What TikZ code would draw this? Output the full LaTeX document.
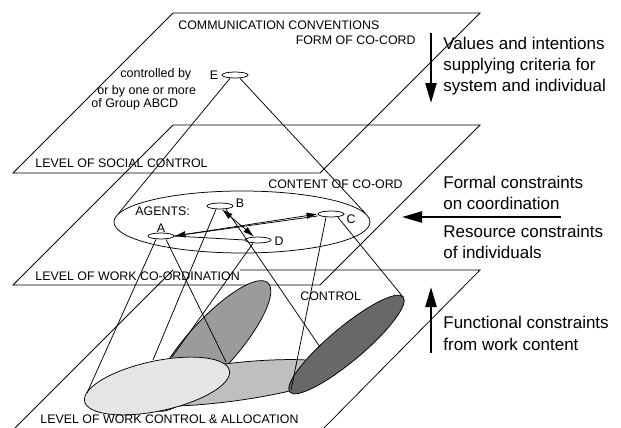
\documentclass[tikz,border=0pt]{standalone}
\usepackage{fontspec}
\setmainfont{Liberation Sans}
\usetikzlibrary{arrows.meta,shapes.geometric}
\definecolor{lightg}{HTML}{E5E5E7}
\definecolor{midg}{HTML}{BFBFBF}
\definecolor{mdarkg}{HTML}{9B9B9B}
\definecolor{darkg}{HTML}{686868}
\begin{document}
\begin{tikzpicture}[x=1pt,y=-1pt,line width=0.75pt,
  lab/.style={font=\fontsize{12.4}{14}\selectfont,inner sep=0pt,anchor=base west},
  smalllab/.style={font=\fontsize{12.5}{14}\selectfont,inner sep=0pt,anchor=base west},
  biglab/.style={font=\fontsize{17}{20}\selectfont,inner sep=0pt,anchor=base west},
  agent/.style={ellipse,draw,fill=white,minimum width=26pt,minimum height=6pt,inner sep=0pt},
  blob/.style={ellipse,draw,inner sep=0pt},
  agboth/.style={{Latex[length=11pt,width=6.5pt]}-{Latex[length=11pt,width=6.5pt]}},
  bigarrow/.style={line width=2.4pt,-{Triangle[length=20pt,width=11pt]}}]
\useasboundingbox (0,0) rectangle (621,428);
% planes
\draw (173,13) -- (480,13) -- (320,173) -- (13,173) -- cycle;
\draw (173,125) -- (480,125) -- (320,285) -- (13,285) -- cycle;
\draw (240,270) -- (480,270) -- (320,432);
\draw (173,270) -- (11,432);
% lower ellipses
\node[blob,fill=mdarkg,rotate=48,minimum width=170pt,minimum height=50pt] (wkB) at (211,346) {};
\node[blob,fill=midg,rotate=7,minimum width=228pt,minimum height=38pt] (wkM) at (225,383) {};
\node[blob,fill=lightg,rotate=12,minimum width=148pt,minimum height=50pt] (wkL) at (157,386) {};
\node[blob,fill=darkg,rotate=40,minimum width=148pt,minimum height=34pt] (wkD) at (346.5,344.5) {};
\coordinate (lightL) at (87,393);
\coordinate (lightR) at (226,362);
\coordinate (lightT) at (153,360);
\coordinate (mdarkL) at (172,357);
\coordinate (darkE) at (320,347);
\coordinate (darkL) at (291,390);
\coordinate (darkR) at (403,297);
% agents
\node[draw,ellipse,minimum width=256pt,minimum height=62pt,inner sep=0pt] (agents) at (242,222) {};
\node[agent] (E) at (235,75) {};
\node[agent] (A) at (161,236) {};
\node[agent] (B) at (220,206) {};
\node[agent] (C) at (331,214) {};
\node[agent] (D) at (258,240) {};
% connecting lines
\draw ([xshift=-5pt]E.south) -- (agents.176);
\draw ([xshift=5pt]E.south) -- (agents.4);
\draw ([xshift=-5pt]A.south) -- (lightL);
\draw ([xshift=5pt]A.south) -- (lightR);
\draw ([xshift=-4pt]B.south) -- (lightT);
\draw ([xshift=6pt]B.south) -- (darkE);
\draw ([xshift=-5pt]D.south) -- (mdarkL);
\draw ([xshift=-5pt]C.south) -- (darkL);
\draw ([xshift=7pt]C.south) -- (darkR);
% arrows among agents
\draw[agboth] (A.east) -- (C.west);
\draw (A.east) -- ([yshift=-2pt]C.west);
\draw (A.east) -- (D.west);
\draw[agboth] ([xshift=2pt]B.south) -- ([xshift=-4pt]D.north);
% labels
\node[lab] (t1) at (178,30) {COMMUNICATION CONVENTIONS};
\node[lab,anchor=base east] (t2) at (416,45) {FORM OF CO-CORD};
\node[smalllab] (t3) at (120,77.5) {controlled by};
\node[smalllab] (t4) at (97,95) {or by one or more};
\node[smalllab] (t5) at (91,107.5) {of Group ABCD};
\node[lab,anchor=base] (tE) at (214,79.5) {E};
\node[lab] (t6) at (35,167) {LEVEL OF SOCIAL CONTROL};
\node[lab] (t7) at (268,188) {CONTENT OF CO-ORD};
\node[lab] (t8) at (135,215) {AGENTS:};
\node[lab,anchor=base] (tA) at (161,232) {A};
\node[lab,anchor=base] (tB) at (240,207) {B};
\node[lab,anchor=base] (tC) at (351,223.5) {C};
\node[lab,anchor=base] (tD) at (279,245) {D};
\node[lab] (t9) at (35,280) {LEVEL OF WORK CO-ORDINATION};
\node[lab] (t10) at (300,300) {CONTROL};
\node[lab] (t11) at (40,423) {LEVEL OF WORK CONTROL \& ALLOCATION};
% right side
\coordinate (a1s) at (431,33);
\coordinate (a1e) at (431,103);
\coordinate (a2s) at (561,217);
\coordinate (a2e) at (402,217);
\coordinate (a3s) at (431,353);
\coordinate (a3e) at (431,287);
\draw[bigarrow] (a1s) -- (a1e);
\draw[bigarrow] (a2s) -- (a2e);
\draw[bigarrow] (a3s) -- (a3e);
\node[biglab] (r1) at (443,49) {Values and intentions};
\node[biglab] (r2) at (443,70.5) {supplying criteria for};
\node[biglab] (r3) at (443,92) {system and individual};
\node[biglab] (r4) at (443,188) {Formal constraints};
\node[biglab] (r5) at (443,209) {on coordination};
\node[biglab] (r6) at (443,237) {Resource constraints};
\node[biglab] (r7) at (443,258) {of individuals};
\node[biglab] (r8) at (443,328) {Functional constraints};
\node[biglab] (r9) at (443,350) {from work content};
\end{tikzpicture}
\end{document}
